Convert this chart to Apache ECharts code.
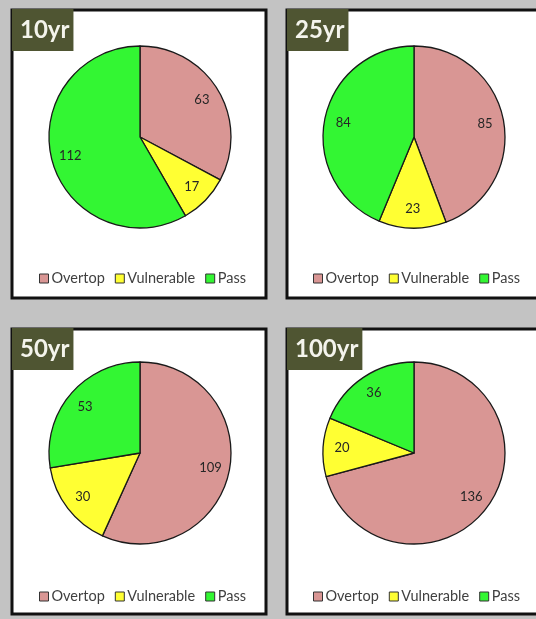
<!DOCTYPE html>
<html>
<head>
<meta charset="utf-8">
<script src="https://cdn.jsdelivr.net/npm/echarts@6/dist/echarts.min.js"></script>
<style>
html,body{margin:0;padding:0;background:#c3c3c3;}
#chart{width:536px;height:619px;}
</style>
</head>
<body>
<div id="chart"></div>
<script>
const categories = ['Overtop', 'Vulnerable', 'Pass'];
const periods = ['10yr', '25yr', '50yr', '100yr'];
const values10 = [63, 17, 112];
const values25 = [85, 23, 84];
const values50 = [109, 30, 53];
const values100 = [136, 20, 36];
const colors = ['#d99694', '#ffff33', '#33f633'];

const allValues = [values10, values25, values50, values100];
// panel layout
const panels = [
  {x: 12, y: 10, w: 254, h: 288, cx: 140, cy: 137},
  {x: 287, y: 10, w: 260, h: 288, cx: 414, cy: 137},
  {x: 12, y: 329, w: 254, h: 285, cx: 140, cy: 453},
  {x: 287, y: 329, w: 260, h: 285, cx: 414, cy: 453}
];
const R = 91;
const legendTops = [266, 266, 584, 584];
const legendLefts = [34, 308, 34, 308];

const graphics = [];
const titles = [];
const series = [];
const legends = [];
panels.forEach((p, i) => {
  graphics.push({
    type: 'rect', z: -10,
    shape: {x: p.x, y: p.y, width: p.w, height: p.h},
    style: {fill: '#ffffff', stroke: '#111111', lineWidth: 3}
  });
  titles.push({
    text: periods[i],
    left: p.x, top: p.y - 1,
    padding: [9, 4, 9, 8],
    backgroundColor: '#4f5532',
    textStyle: {color: '#f4f4ec', fontSize: 24, fontWeight: 'bold', fontFamily: 'Lato'}
  });
  const data = categories.map((c, k) => ({name: c, value: allValues[i][k], itemStyle: {color: colors[k]}}));
  series.push({
    type: 'pie', center: [p.cx, p.cy], radius: [0, R],
    startAngle: 90, clockwise: true,
    silent: true,
    label: {show: false}, labelLine: {show: false},
    itemStyle: {borderColor: '#1a1a1a', borderWidth: 1.3},
    data: data
  });
  series.push({
    type: 'pie', center: [p.cx, p.cy], radius: [R * 0.52, R],
    startAngle: 90, clockwise: true,
    silent: true,
    label: {show: true, position: 'inside', color: '#262626', fontSize: 13, fontFamily: 'Lato', formatter: '{c}'},
    labelLine: {show: false},
    itemStyle: {color: 'rgba(0,0,0,0)', borderWidth: 0},
    data: categories.map((c, k) => ({name: c, value: allValues[i][k]})),
    z: 3
  });
  legends.push({
    data: categories,
    left: legendLefts[i], top: legendTops[i],
    icon: 'rect', itemWidth: 9, itemHeight: 9, itemGap: 10,
    selectedMode: false,
    textStyle: {color: '#404040', fontSize: 14.5, fontFamily: 'Lato', padding: [0, 0, 0, -2]},
    itemStyle: {borderColor: '#333333', borderWidth: 1}
  });
});

const chart = echarts.init(document.getElementById('chart'), null, {renderer: 'canvas'});
chart.setOption({
  backgroundColor: '#c3c3c3',
  animation: false,
  color: colors,
  graphic: graphics,
  title: titles,
  legend: legends,
  series: series
});
</script>
</body>
</html>
